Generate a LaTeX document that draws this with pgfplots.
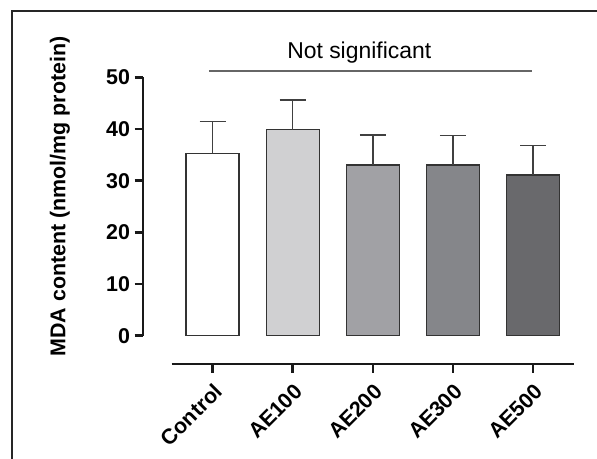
\documentclass[border=0pt]{standalone}
\usepackage{pgfplots}
\pgfplotsset{compat=1.18}
\usepackage{fontspec}
\setmainfont{Liberation Sans}
\definecolor{c1}{HTML}{FFFFFF}
\definecolor{c2}{HTML}{D0D0D2}
\definecolor{c3}{HTML}{A1A1A5}
\definecolor{c4}{HTML}{85868A}
\definecolor{c5}{HTML}{69696C}
\definecolor{edge}{HTML}{333333}
\begin{document}
\begin{tikzpicture}
\path[use as bounding box] (0,0) rectangle (597bp,-459bp);
\draw[line width=2.2bp, black!85] (12bp,-459bp) -- (12bp,-11bp) -- (597bp,-11bp);
\begin{axis}[
  at={(171.7bp,-335.7bp)}, anchor=south west,
  scale only axis, width=402.3bp, height=258.4bp,
  xmin=-0.51, xmax=4.51, ymin=0, ymax=50,
  axis x line=bottom, axis y line=left,
  axis line style={-, line width=2.5bp, black!90},
  axis x line shift=28.3bp, axis y line shift=28.7bp,
  xtick={0,1,2,3,4},
  xticklabels={Control,AE100,AE200,AE300,AE500},
  ytick={0,10,20,30,40,50},
  tick align=outside, major tick length=8.5bp,
  tick style={line width=2.5bp, black!90},
  /pgf/number format/assume math mode=true,
  tick label style={font=\bfseries\fontsize{21.5}{21.5}\selectfont},
  x tick label style={xshift=8bp, yshift=-13bp, rotate=45, anchor=east},
  y tick label style={xshift=-1bp},
  every axis y label/.style={at={(axis description cs:-0.278,0.539)}, rotate=90, anchor=center},
  ylabel={\bfseries\fontsize{21.5}{21.5}\selectfont MDA content (nmol/mg protein)},
  clip=false,
]
\addplot[ybar, bar width=53bp, bar shift=0pt, fill=c1, draw=edge, line width=1.4bp,
  error bars/.cd, y dir=plus, y explicit,
  error bar style={line width=1.5bp, draw=black!75},
  error mark options={rotate=90, mark size=13bp, line width=1.5bp, draw=black!75}]
  coordinates {(0,35.3) +- (0,6.1)};
\addplot[ybar, bar width=53bp, bar shift=0pt, fill=c2, draw=edge, line width=1.4bp,
  error bars/.cd, y dir=plus, y explicit,
  error bar style={line width=1.5bp, draw=black!75},
  error mark options={rotate=90, mark size=13bp, line width=1.5bp, draw=black!75}]
  coordinates {(1,39.9) +- (0,5.7)};
\addplot[ybar, bar width=53bp, bar shift=0pt, fill=c3, draw=edge, line width=1.4bp,
  error bars/.cd, y dir=plus, y explicit,
  error bar style={line width=1.5bp, draw=black!75},
  error mark options={rotate=90, mark size=13bp, line width=1.5bp, draw=black!75}]
  coordinates {(2,33.0) +- (0,5.8)};
\addplot[ybar, bar width=53bp, bar shift=0pt, fill=c4, draw=edge, line width=1.4bp,
  error bars/.cd, y dir=plus, y explicit,
  error bar style={line width=1.5bp, draw=black!75},
  error mark options={rotate=90, mark size=13bp, line width=1.5bp, draw=black!75}]
  coordinates {(3,33.0) +- (0,5.7)};
\addplot[ybar, bar width=53bp, bar shift=0pt, fill=c5, draw=edge, line width=1.4bp,
  error bars/.cd, y dir=plus, y explicit,
  error bar style={line width=1.5bp, draw=black!75},
  error mark options={rotate=90, mark size=13bp, line width=1.5bp, draw=black!75}]
  coordinates {(4,31.1) +- (0,5.7)};
\addplot[sharp plot, no marks, line width=1.6bp, draw=black!60] coordinates {(-0.045,51.2) (3.99,51.2)};
\node[font=\fontsize{23}{23}\selectfont] at (axis cs:1.83,54.8) {Not significant};
\end{axis}
\end{tikzpicture}
\end{document}
